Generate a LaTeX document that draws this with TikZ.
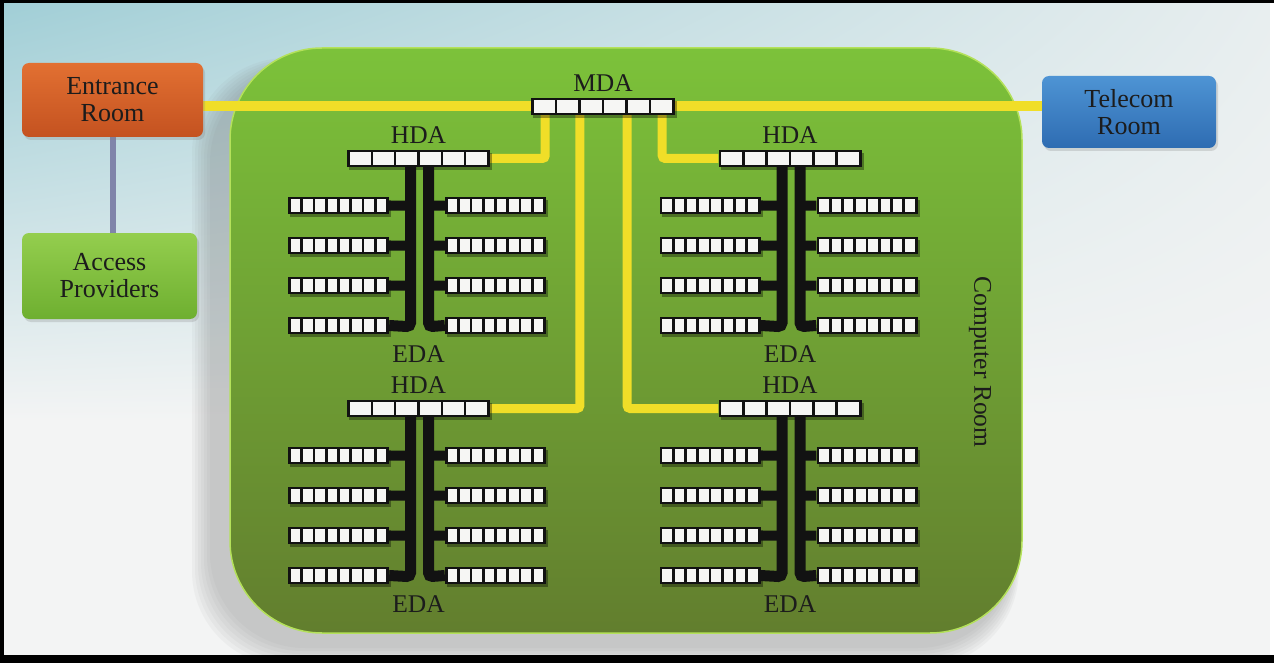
\documentclass[tikz,border=0pt]{standalone}
\usepackage{fontspec}
\setmainfont{Liberation Serif}
\usetikzlibrary{calc,shadows,shadings}
\definecolor{cable}{RGB}{240,222,40}
\definecolor{skyA}{RGB}{160,206,214}
\definecolor{skyB}{RGB}{232,238,239}
\definecolor{bgbase}{RGB}{243,244,244}
\definecolor{greenTop}{RGB}{124,194,58}
\definecolor{greenBot}{RGB}{98,126,46}
\definecolor{greenEdge}{RGB}{180,225,90}
\definecolor{entrTop}{RGB}{226,112,50}
\definecolor{entrBot}{RGB}{196,82,32}
\definecolor{telTop}{RGB}{78,148,212}
\definecolor{telBot}{RGB}{46,108,178}
\definecolor{accTop}{RGB}{148,206,78}
\definecolor{accBot}{RGB}{110,175,48}
\definecolor{apline}{RGB}{128,132,170}
\definecolor{txt}{RGB}{28,28,28}
\definecolor{rack}{RGB}{18,18,18}
\definecolor{cellc}{RGB}{246,246,244}
\pgfdeclarelayer{bg}
\pgfdeclarelayer{cables}
\pgfsetlayers{bg,cables,main}
\tikzset{
  lbl/.style={font=\fontsize{25.5}{27}\selectfont, text=txt, inner sep=0pt},
  rackbox/.style={fill=rack, inner sep=0pt, draw=none},
  cell/.style={fill=cellc},
  ycable/.style={draw=cable, line width=9pt, rounded corners=3pt},
  trunk/.style={draw=rack, line width=11pt, rounded corners=4pt},
  stub/.style={draw=rack, line width=10pt},
  roombox/.style={rounded corners=7pt, inner sep=0pt, align=center,
    font=\fontsize{26}{27}\selectfont, text=txt,
    drop shadow={opacity=0.25, shadow xshift=2pt, shadow yshift=-3pt}},
}
% name, cx, cy, cells, width, height
\newcommand\rack[6]{%
  \pgfmathsetmacro\rkL{#2-#5/2+1.5}%
  \pgfmathsetmacro\rkW{(#5-3)/#4}%
  \pgfmathsetmacro\rkT{#3-#6/2+1.7}%
  \pgfmathsetmacro\rkB{#3+#6/2-1.7}%
  \pgfmathsetmacro\rkSa{#2-#5/2+2}%
  \pgfmathsetmacro\rkSb{#2+#5/2+2}%
  \pgfmathsetmacro\rkSc{#3-#6/2+3}%
  \pgfmathsetmacro\rkSd{#3+#6/2+3}%
  \fill[black, opacity=0.35] (\rkSa,\rkSc) rectangle (\rkSb,\rkSd);
  \node[rackbox, minimum width=#5pt, minimum height=#6pt] (#1) at (#2,#3) {};
  \foreach \j in {1,...,#4}{%
    \pgfmathsetmacro\rkXa{\rkL+(\j-1)*\rkW+1.3}%
    \pgfmathsetmacro\rkXb{\rkL+\j*\rkW-1.3}%
    \fill[cell] (\rkXa,\rkT) rectangle (\rkXb,\rkB);
  }%
}
% prefix, cx, hy
\newcommand\dablock[3]{%
  \rack{#1h}{#2}{#3}{6}{143}{17}
  \node[lbl] (#1hl) at (#2,#3-23) {HDA};
  \node[lbl] (#1el) at (#2,#3+196) {EDA};
  \foreach \k/\dy in {1/47,2/87,3/127,4/167}{%
    \rack{#1l\k}{#2-80}{#3+\dy}{8}{101}{17}
    \rack{#1r\k}{#2+77}{#3+\dy}{8}{101}{17}
  }
  \foreach \k/\dy in {1/47,2/87,3/127}{%
    \draw[stub] ($(#1h.south)+(-8,\dy-8.5)$) -- (#1l\k.east);
    \draw[stub] ($(#1h.south)+(10,\dy-8.5)$) -- (#1r\k.west);
  }
  \draw[trunk] ($(#1h.south)+(-8,0)$) -- ($(#1h.south)+(-8,159.5)$) -- (#1l4.east);
  \draw[trunk] ($(#1h.south)+(10,0)$) -- ($(#1h.south)+(10,159.5)$) -- (#1r4.west);
}
\begin{document}
\begin{tikzpicture}[x=1pt,y=-1pt]
\useasboundingbox (0,0) rectangle (1274,663);
\begin{pgfonlayer}{bg}
  \fill[bgbase] (0,0) rectangle (1274,663);
  \shade[upper left=skyA, upper right=skyB, lower left=bgbase, lower right=bgbase] (0,0) rectangle (1274,420);
  % shadow of the computer room (towards lower left)
  \foreach \e in {20,17,14,11,8,5,2}{
    \fill[black!55, opacity=0.055, rounded corners=95pt] (212-\e,68-\e/2) rectangle (1012+\e/3,646+\e);
  }
  % computer room
  \shade[top color=greenTop, bottom color=greenBot, rounded corners=92pt] (230,48) rectangle (1022,633);
  \draw[greenEdge, line width=1.5pt, rounded corners=92pt] (230,48) rectangle (1022,633);
  % frame
  \fill[black] (0,0) rectangle (1274,3);
  \fill[black] (0,0) rectangle (4,663);
  \fill[black] (0,655) rectangle (1274,663);
  \fill[white] (1270,3) rectangle (1274,655);
\end{pgfonlayer}

% rooms
\node[roombox, minimum width=181pt, minimum height=74pt, top color=entrTop, bottom color=entrBot] (entr) at (112.5,100) {Entrance\\Room};
\node[roombox, minimum width=175pt, minimum height=86pt, top color=accTop, bottom color=accBot] (acc) at (109.5,276) {Access\\Providers};
\node[roombox, minimum width=174pt, minimum height=72pt, top color=telTop, bottom color=telBot] (tel) at (1129,112) {Telecom\\Room};

\node[lbl, rotate=-90] (crl) at (980,362) {Computer Room};

% MDA
\rack{mda}{603}{106.5}{6}{144}{17}
\node[lbl] (mdal) at (603,83) {MDA};

% distribution blocks
\dablock{tl}{418.5}{158.5}
\dablock{tr}{790}{158.5}
\dablock{bl}{418.5}{408.5}
\dablock{br}{790}{408.5}

\begin{pgfonlayer}{cables}
  \draw[apline, line width=6pt] (entr.south) -- (entr.south |- acc.north);
  \draw[ycable, line width=10pt] (mda.west) -- (mda.west -| entr.east);
  \draw[ycable, line width=10pt] (mda.east) -- (mda.east -| tel.west);
  \draw[ycable] ($(mda.south west)!0.1!(mda.south east)$) |- (tlh.east);
  \draw[ycable] ($(mda.south west)!0.34!(mda.south east)$) |- (blh.east);
  \draw[ycable] ($(mda.south west)!0.667!(mda.south east)$) |- (brh.west);
  \draw[ycable] ($(mda.south west)!0.91!(mda.south east)$) |- (trh.west);
\end{pgfonlayer}
\end{tikzpicture}
\end{document}
